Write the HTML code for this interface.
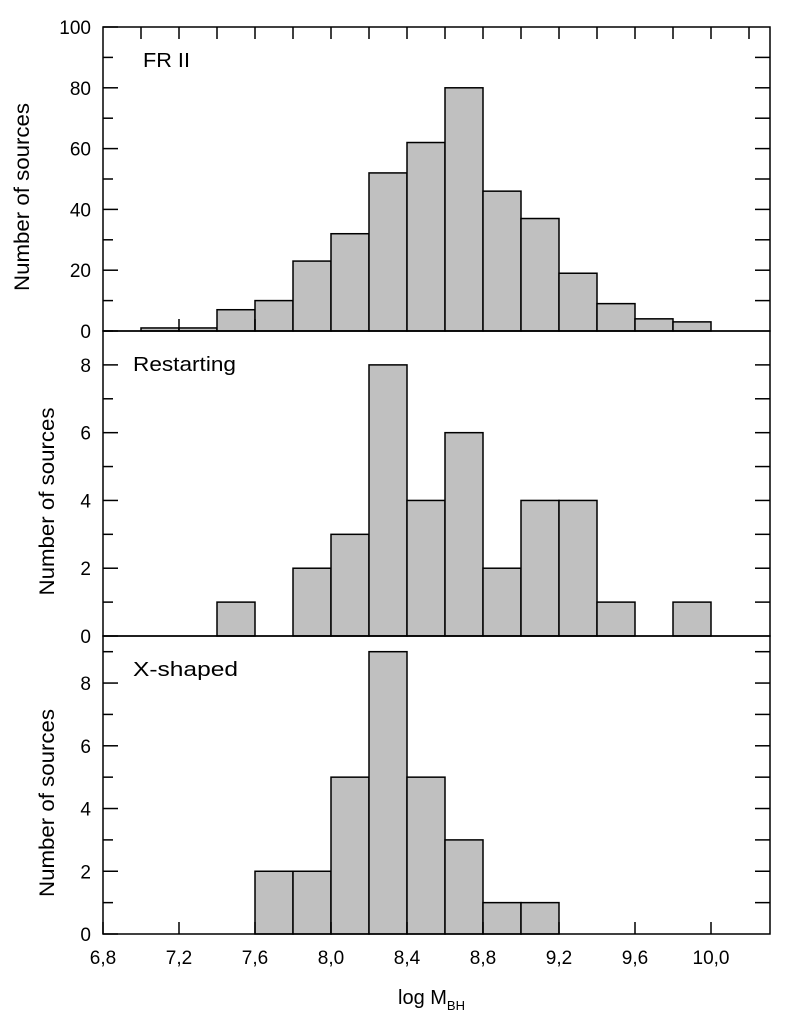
<!DOCTYPE html>
<html><head><meta charset="utf-8"><style>
html,body{margin:0;padding:0;background:#fff;}
svg{display:block;font-family:"Liberation Sans",sans-serif;}
</style></head><body>
<svg id="c" width="789" height="1028" viewBox="0 0 789 1028"></svg>
<script>
const binStarts = [7.0,7.2,7.4,7.6,7.8,8.0,8.2,8.4,8.6,8.8,9.0,9.2,9.4,9.6,9.8];
const fr2Counts = [1,1,7,10,23,32,52,62,80,46,37,19,9,4,3];
const restartCounts = [0,0,1,0,2,3,8,4,6,2,4,4,1,0,1];
const xshapedCounts = [0,0,0,2,2,5,9,5,3,1,1,0,0,0,0];
const xTickLabels = ["6,8","7,2","7,6","8,0","8,4","8,8","9,2","9,6","10,0"];
const xTickValues = [6.8,7.2,7.6,8.0,8.4,8.8,9.2,9.6,10.0];
const panelTitles = ["FR II","Restarting","X-shaped"];

const svg = document.getElementById('c');
const NS = 'http://www.w3.org/2000/svg';
const L = 103, R = 770;
const xMin = 6.8, xMax = 6.8 + (R - L) / 190;
function xs(v){ return L + (v - xMin) / (xMax - xMin) * (R - L); }
function mk(tag, attrs, parent){ const e = document.createElementNS(NS, tag); for (const k in attrs) e.setAttribute(k, attrs[k]); (parent||svg).appendChild(e); return e; }

const panels = [
  {top:27, bot:331, max:100, counts:fr2Counts, labStep:20, minStep:10, rStep:10, name:'fr2', tx:143, tl:47, yx:29},
  {top:331, bot:636, max:9, counts:restartCounts, labStep:2, minStep:1, rStep:1, name:'restarting', tx:133, tl:103, yx:54},
  {top:636, bot:934, max:9.5, counts:xshapedCounts, labStep:2, minStep:1, rStep:1, name:'xshaped', tx:133, tl:105, yx:54}
];

panels.forEach((p, pi) => {
  const g = mk('g', {});
  
  
  const ys = v => p.bot - v / p.max * (p.bot - p.top);
  p.counts.forEach((c, i) => {
    if (c <= 0) return;
    const x0 = xs(binStarts[i]), x1 = xs(binStarts[i] + 0.2);
    const r = mk('rect', {x:x0, y:ys(c), width:x1 - x0, height:p.bot - ys(c), fill:'#c0c0c0', stroke:'#000', 'stroke-width':1.5}, g);
    
    
  });
  for (let v = 0; v <= p.max + 1e-9; v += p.minStep) {
    const major = Math.abs(v / p.labStep - Math.round(v / p.labStep)) < 1e-9;
    mk('line', {x1:L, x2:L + (major ? 15 : 10), y1:ys(v), y2:ys(v), stroke:'#000', 'stroke-width':1.5}, g);
    if (major) {
      const t = mk('text', {x:L - 12, y:ys(v) + 7, 'text-anchor':'end', 'font-size':19}, g);
      t.textContent = String(v);
      
      
    }
  }
  for (let v = p.rStep; v < p.max; v += p.rStep) {
    mk('line', {x1:R, x2:R - 15, y1:ys(v), y2:ys(v), stroke:'#000', 'stroke-width':1.5}, g);
  }
  if (pi === 0) {
    for (let v = 7.0; v <= 10.21; v += 0.2) {
      mk('line', {x1:xs(v), x2:xs(v), y1:p.top, y2:p.top + 12, stroke:'#000', 'stroke-width':1.5}, g);
    }
    [7.2,7.6].forEach(v => mk('line', {x1:xs(v), x2:xs(v), y1:p.bot, y2:p.bot - 12, stroke:'#000', 'stroke-width':1.5}, g));
  }
  if (pi === 2) {
    xTickValues.forEach(v => mk('line', {x1:xs(v), x2:xs(v), y1:p.bot, y2:p.bot - 12, stroke:'#000', 'stroke-width':1.5}, g));
  }
  mk('rect', {x:L, y:p.top, width:R - L, height:p.bot - p.top, fill:'none', stroke:'#000', 'stroke-width':1.5}, g);
  const tt = mk('text', {x:p.tx, y:p.top + 40, 'font-size':20, textLength:p.tl, lengthAdjust:'spacingAndGlyphs'}, g);
  tt.textContent = panelTitles[pi];
  
  
  const cy = (p.top + p.bot) / 2 + 18;
  const yt = mk('text', {x:p.yx, y:cy, 'font-size':21, 'text-anchor':'middle', textLength:188, lengthAdjust:'spacingAndGlyphs', transform:'rotate(-90 ' + p.yx + ' ' + cy + ')'}, g);
  yt.textContent = 'Number of sources';
  
  
});

xTickLabels.forEach((lab, i) => {
  const t = mk('text', {x:xs(xTickValues[i]), y:964, 'text-anchor':'middle', 'font-size':19});
  t.textContent = lab;
  
  
});
const xt = mk('text', {x:398, y:1004, 'font-size':20});


xt.innerHTML = 'log M<tspan dy="6" font-size="13">BH</tspan>';
</script>
</body></html>
